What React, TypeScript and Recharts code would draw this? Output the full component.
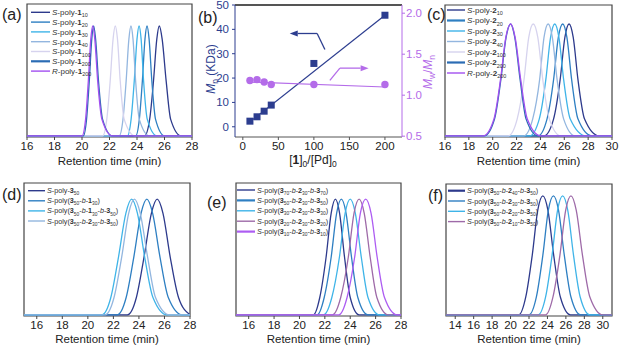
import React from 'react'
import { LineChart, Line, XAxis, YAxis, ReferenceArea, ReferenceLine } from 'recharts'

type Seg = [string, string]
type Name = { pre: string; segs: Seg[] }

const FRAME = '#444'
const TXT = '#222'
const NAVY = '#2d3a8c'
const BLUE = '#2e7fc2'
const SKY = '#3fb4e8'
const PALE = '#93b6df'
const LAV = '#d6d3ee'
const DBLUE = '#2b6cb4'
const PURPLE = '#a24ff0'
const MAUVE = '#9e6aa8'
const VIOLET = '#ad5cf2'
const MN = '#2c3d8f'
const PDI = '#b46ce9'

const LEVELS = [0, 0.15, 0.5, 0.88, 1, 0.88, 0.5, 0.15, 0]

// (a) S-poly-1 / R-poly-1
const A_NAMES: Name[] = [
  { pre: 'S', segs: [['1', '10']] },
  { pre: 'S', segs: [['1', '20']] },
  { pre: 'S', segs: [['1', '30']] },
  { pre: 'S', segs: [['1', '40']] },
  { pre: 'S', segs: [['1', '100']] },
  { pre: 'S', segs: [['1', '200']] },
  { pre: 'R', segs: [['1', '200']] },
]
const A_COLORS = [NAVY, BLUE, SKY, PALE, LAV, DBLUE, PURPLE]
const A_TIMES = [
  [24.55, 24.92, 25.2, 25.44, 25.62, 25.83, 26.12, 26.45, 27.2],
  [23.9, 24.17, 24.39, 24.58, 24.73, 24.88, 25.08, 25.35, 26.0],
  [23.3, 23.57, 23.8, 24.0, 24.15, 24.3, 24.48, 24.75, 25.45],
  [22.7, 22.98, 23.21, 23.41, 23.56, 23.71, 23.9, 24.17, 24.9],
  [21.5, 21.8, 22.05, 22.26, 22.42, 22.58, 22.78, 23.07, 23.85],
  [20.1, 20.33, 20.53, 20.71, 20.85, 20.99, 21.2, 21.5, 22.2],
  [20.0, 20.26, 20.46, 20.64, 20.78, 20.93, 21.14, 21.45, 22.2],
]
const A_TICKS = [16, 18, 20, 22, 24, 26, 28]

// (b) Mn and Mw/Mn vs [1]0/[Pd]0
const B_RATIO = [10, 20, 30, 40, 100, 200]
const B_MN = [2.3, 4.1, 6.4, 8.9, 26.0, 45.8]
const B_PDI = [1.18, 1.19, 1.16, 1.13, 1.13, 1.13]
const B_FIT_X = [10, 200]
const B_MN_FIT = [2.0, 45.8]
const B_PDI_FIT = [1.16, 1.1]
const B_XTICKS = [0, 50, 100, 150, 200]
const B_MN_TICKS = [0, 10, 20, 30, 40, 50]
const B_PDI_TICKS = [0.5, 1.0, 1.5, 2.0]

// (c) S-poly-2 / R-poly-2
const C_NAMES: Name[] = [
  { pre: 'S', segs: [['2', '10']] },
  { pre: 'S', segs: [['2', '20']] },
  { pre: 'S', segs: [['2', '30']] },
  { pre: 'S', segs: [['2', '40']] },
  { pre: 'S', segs: [['2', '100']] },
  { pre: 'S', segs: [['2', '200']] },
  { pre: 'R', segs: [['2', '200']] },
]
const C_COLORS = [NAVY, BLUE, SKY, PALE, LAV, DBLUE, PURPLE]
const C_TIMES = [
  [24.3, 25.1, 25.65, 26.05, 26.4, 26.75, 27.15, 27.7, 28.9],
  [23.8, 24.55, 25.1, 25.5, 25.87, 26.22, 26.62, 27.15, 28.3],
  [23.1, 23.9, 24.45, 24.85, 25.2, 25.55, 25.95, 26.5, 27.8],
  [22.6, 23.35, 23.93, 24.3, 24.65, 25.0, 25.4, 25.95, 26.9],
  [21.3, 22.05, 22.62, 23.02, 23.4, 23.78, 24.2, 24.75, 25.7],
  [19.3, 20.15, 20.68, 21.12, 21.5, 21.85, 22.3, 22.8, 23.8],
  [19.2, 20.1, 20.65, 21.1, 21.5, 21.88, 22.35, 22.9, 24.0],
]
const C_TICKS = [16, 18, 20, 22, 24, 26, 28, 30]

// (d) block copolymers from 3 and 1/2
const D_NAMES: Name[] = [
  { pre: 'S', segs: [['3', '50']] },
  { pre: 'S', segs: [['3', '50'], ['1', '30']] },
  { pre: 'S', segs: [['3', '50'], ['1', '30'], ['3', '50']] },
  { pre: 'S', segs: [['3', '50'], ['2', '30'], ['3', '50']] },
]
const D_COLORS = [NAVY, BLUE, SKY, PALE]
const D_TIMES = [
  [23.1, 23.8, 24.4, 24.98, 25.43, 25.88, 26.45, 27.1, 28.0],
  [22.3, 23.0, 23.6, 24.17, 24.62, 25.07, 25.65, 26.3, 27.4],
  [21.1, 21.8, 22.4, 22.98, 23.43, 23.88, 24.45, 25.1, 26.2],
  [21.35, 22.05, 22.65, 23.2, 23.65, 24.1, 24.68, 25.3, 26.4],
]
const DE_TICKS = [16, 18, 20, 22, 24, 26, 28]

// (e) varying outer 3 blocks
const E_NAMES: Name[] = [
  { pre: 'S', segs: [['3', '70'], ['2', '30'], ['3', '70']] },
  { pre: 'S', segs: [['3', '50'], ['2', '30'], ['3', '50']] },
  { pre: 'S', segs: [['3', '30'], ['2', '30'], ['3', '30']] },
  { pre: 'S', segs: [['3', '20'], ['2', '30'], ['3', '20']] },
  { pre: 'S', segs: [['3', '10'], ['2', '30'], ['3', '10']] },
]
const E_COLORS = [NAVY, BLUE, SKY, MAUVE, VIOLET]
const E_TIMES = [
  [21.1, 21.6, 22.1, 22.5, 22.83, 23.16, 23.55, 24.0, 24.7],
  [21.4, 21.95, 22.5, 22.93, 23.3, 23.67, 24.1, 24.6, 25.4],
  [21.9, 22.55, 23.15, 23.6, 24.0, 24.4, 24.87, 25.4, 26.3],
  [22.6, 23.25, 23.85, 24.3, 24.7, 25.1, 25.57, 26.1, 27.0],
  [23.1, 23.75, 24.35, 24.8, 25.22, 25.64, 26.12, 26.7, 27.7],
]

// (f) varying middle 2 block
const F_NAMES: Name[] = [
  { pre: 'S', segs: [['3', '50'], ['2', '40'], ['3', '50']] },
  { pre: 'S', segs: [['3', '50'], ['2', '30'], ['3', '50']] },
  { pre: 'S', segs: [['3', '50'], ['2', '20'], ['3', '50']] },
  { pre: 'S', segs: [['3', '50'], ['2', '10'], ['3', '50']] },
]
const F_COLORS = [NAVY, BLUE, SKY, MAUVE]
const F_TIMES = [
  [20.9, 21.65, 22.35, 22.95, 23.5, 24.05, 24.68, 25.4, 26.5],
  [22.0, 22.8, 23.5, 24.1, 24.65, 25.2, 25.83, 26.55, 27.6],
  [23.0, 23.8, 24.5, 25.1, 25.65, 26.2, 26.83, 27.55, 28.6],
  [23.8, 24.6, 25.35, 25.98, 26.55, 27.12, 27.8, 28.6, 30.0],
]
const F_TICKS = [14, 16, 18, 20, 22, 24, 26, 28, 30]

const curve = (times: number[], x0: number, x1: number) => {
  const pts = times.map((t, i) => ({ x: t, y: LEVELS[i] }))
  if (times[0] > x0) pts.unshift({ x: x0, y: 0 })
  if (times[times.length - 1] < x1) pts.push({ x: x1, y: 0 })
  return pts
}

const zip = (xs: number[], ys: number[]) => xs.map((x, i) => ({ x, y: ys[i] }))

type Part = { t: string; st?: 'i' | 'b' | 's' }

function nameParts(n: Name): Part[] {
  const out: Part[] = [{ t: n.pre, st: 'i' }, { t: n.segs.length === 1 ? '-poly-' : '-poly(' }]
  n.segs.forEach(([m, dp], i) => {
    if (i > 0) out.push({ t: '-' }, { t: 'b', st: 'i' }, { t: '-' })
    out.push({ t: m, st: 'b' }, { t: dp, st: 's' })
  })
  if (n.segs.length > 1) out.push({ t: ')' })
  return out
}

function spans(parts: Part[], fs: number) {
  const d = fs * 0.28
  let inSub = false
  return parts.map((p, i) => {
    let dy = 0
    if (p.st === 's' && !inSub) dy = d
    if (p.st !== 's' && inSub) dy = -d
    inSub = p.st === 's'
    return (
      <tspan
        key={i}
        dy={dy || undefined}
        fontStyle={p.st === 'i' ? 'italic' : undefined}
        fontWeight={p.st === 'b' ? 'bold' : undefined}
        fontSize={p.st === 's' ? fs * 0.68 : undefined}
      >
        {p.t}
      </tspan>
    )
  })
}

function LegendBox(props: { x: number; y: number; dy: number; lw: number; fs: number; names: Name[]; colors: string[]; thick?: number[] }) {
  const { x, y, dy, lw, fs, names, colors, thick = [] } = props
  return (
    <g>
      {names.map((n, i) => {
        const yy = y + i * dy
        return (
          <g key={i}>
            <line x1={x} x2={x + lw} y1={yy} y2={yy} stroke={colors[i]} strokeWidth={thick.includes(i) ? 2.2 : 1.4} />
            <text x={x + lw + 2} y={yy + fs * 0.36} fontSize={fs} fill="#333">
              {spans(nameParts(n), fs)}
            </text>
          </g>
        )
      })}
    </g>
  )
}

type GpcProps = {
  left: number
  top: number
  width: number
  height: number
  margin: { top: number; right: number; bottom: number; left: number }
  xh: number
  domain: [number, number]
  ticks: number[]
  yMax: number
  times: number[][]
  colors: string[]
}

function Gpc({ left, top, width, height, margin, xh, domain, ticks, yMax, times, colors }: GpcProps) {
  const [x0, x1] = domain
  return (
    <div style={{ position: 'absolute', left, top }}>
      <LineChart width={width} height={height} margin={margin}>
        <XAxis
          type="number"
          dataKey="x"
          domain={domain}
          ticks={ticks}
          interval={0}
          allowDataOverflow
          axisLine={false}
          tickSize={3}
          tickMargin={1.5}
          tickLine={{ stroke: FRAME }}
          tick={{ fill: TXT, fontSize: 11.5 }}
          height={xh}
          label={{ value: 'Retention time (min)', position: 'insideBottom', offset: 2.5, fill: TXT, fontSize: 11.5 }}
        />
        <YAxis hide type="number" domain={[-0.01, yMax]} allowDataOverflow />
        <ReferenceArea x1={x0} x2={x1} y1={-0.01} y2={yMax} fill="none" stroke={FRAME} strokeWidth={1.2} />
        {times.map((t, i) => (
          <Line
            key={i}
            data={curve(t, x0, x1)}
            dataKey="y"
            type="monotone"
            stroke={colors[i]}
            strokeWidth={1.3}
            dot={false}
            isAnimationActive={false}
          />
        ))}
      </LineChart>
    </div>
  )
}

const arrowShape = (color: string, head: boolean) => (p: any) => {
  const { x1, y1, x2, y2 } = p
  const ang = Math.atan2(y2 - y1, x2 - x1)
  const L = 8
  const W = 3
  const bx = x2 - L * Math.cos(ang)
  const by = y2 - L * Math.sin(ang)
  const nx = -Math.sin(ang) * W
  const ny = Math.cos(ang) * W
  return (
    <g>
      <line x1={x1} y1={y1} x2={head ? bx : x2} y2={head ? by : y2} stroke={color} strokeWidth={1.3} />
      {head && <polygon points={`${x2},${y2} ${bx + nx},${by + ny} ${bx - nx},${by - ny}`} fill={color} />}
    </g>
  )
}

const squareDot = (p: any) => <rect key={p.index} x={p.cx - 3.5} y={p.cy - 3.5} width={7} height={7} fill={MN} />
const circleDot = (p: any) => <circle key={p.index} cx={p.cx} cy={p.cy} r={3.7} fill={PDI} />

function PanelB() {
  return (
    <div style={{ position: 'absolute', left: 195, top: 0 }}>
      <LineChart width={245} height={170} margin={{ top: 5, right: 18, bottom: 3, left: 0 }}>
        <XAxis
          type="number"
          dataKey="x"
          domain={[-11, 224]}
          ticks={B_XTICKS}
          interval={0}
          allowDataOverflow
          height={30}
          stroke="#555"
          tickSize={3}
          tickMargin={1.5}
          tick={{ fill: TXT, fontSize: 11.5 }}
        />
        <YAxis
          yAxisId="mn"
          type="number"
          domain={[-4.2, 50]}
          ticks={B_MN_TICKS}
          interval={0}
          allowDataOverflow
          width={40}
          stroke={MN}
          tickSize={3}
          tickMargin={3}
          tick={{ fill: MN, fontSize: 11.5 }}
        />
        <YAxis
          yAxisId="pdi"
          orientation="right"
          type="number"
          domain={[0.49, 2.1]}
          ticks={B_PDI_TICKS}
          interval={0}
          allowDataOverflow
          width={20}
          stroke={PDI}
          tickSize={3}
          tickMargin={1}
          tickFormatter={(v: number) => v.toFixed(1)}
          tick={{ fill: PDI, fontSize: 11.5 }}
        />
        <ReferenceLine yAxisId="mn" y={50} stroke="#555" strokeWidth={2} />
        <Line yAxisId="mn" data={zip(B_FIT_X, B_MN_FIT)} dataKey="y" stroke={MN} strokeWidth={1.2} dot={false} isAnimationActive={false} />
        <Line yAxisId="pdi" data={zip(B_FIT_X, B_PDI_FIT)} dataKey="y" stroke={PDI} strokeWidth={1.2} dot={false} isAnimationActive={false} />
        <Line yAxisId="mn" data={zip(B_RATIO, B_MN)} dataKey="y" stroke="none" dot={squareDot} isAnimationActive={false} />
        <Line yAxisId="pdi" data={zip(B_RATIO, B_PDI)} dataKey="y" stroke="none" dot={circleDot} isAnimationActive={false} />
        <ReferenceLine yAxisId="mn" segment={[{ x: 115.5, y: 31.7 }, { x: 104.6, y: 38.3 }]} shape={arrowShape(MN, false)} />
        <ReferenceLine yAxisId="mn" segment={[{ x: 104.6, y: 38.3 }, { x: 66, y: 38.3 }]} shape={arrowShape(MN, true)} />
        <ReferenceLine yAxisId="pdi" segment={[{ x: 122.5, y: 1.18 }, { x: 136.6, y: 1.33 }]} shape={arrowShape(PDI, false)} />
        <ReferenceLine yAxisId="pdi" segment={[{ x: 136.6, y: 1.33 }, { x: 177, y: 1.33 }]} shape={arrowShape(PDI, true)} />
      </LineChart>
    </div>
  )
}

export default function App() {
  return (
    <div
      style={{
        position: 'absolute',
        left: 0,
        top: 0,
        width: 619,
        height: 347,
        background: '#fff',
        fontFamily: '"Liberation Sans", Arial, sans-serif',
      }}
    >
      <Gpc left={0} top={0} width={200} height={170} margin={{ top: 4, right: 8, bottom: 3, left: 27 }} xh={30} domain={[16, 28]} ticks={A_TICKS} yMax={1.2} times={A_TIMES} colors={A_COLORS} />
      <PanelB />
      <Gpc left={410} top={0} width={209} height={170} margin={{ top: 5, right: 7, bottom: 3, left: 35 }} xh={30} domain={[16, 30]} ticks={C_TICKS} yMax={1.17} times={C_TIMES} colors={C_COLORS} />
      <Gpc left={0} top={170} width={200} height={177} margin={{ top: 13, right: 10, bottom: 2, left: 24 }} xh={29} domain={[15, 28]} ticks={DE_TICKS} yMax={1.14} times={D_TIMES} colors={D_COLORS} />
      <Gpc left={200} top={170} width={210} height={177} margin={{ top: 13, right: 9, bottom: 2, left: 36 }} xh={29} domain={[15, 28]} ticks={DE_TICKS} yMax={1.14} times={E_TIMES} colors={E_COLORS} />
      <Gpc left={410} top={170} width={209} height={177} margin={{ top: 14, right: 7, bottom: 2, left: 36 }} xh={29} domain={[13, 31]} ticks={F_TICKS} yMax={1.1} times={F_TIMES} colors={F_COLORS} />
      <svg width={619} height={347} style={{ position: 'absolute', left: 0, top: 0, pointerEvents: 'none' }}>
        <g fontSize={16} fill={TXT}>
          <text x={2} y={19.5}>(a)</text>
          <text x={198} y={23}>(b)</text>
          <text x={427} y={19.5}>(c)</text>
          <text x={2} y={200}>(d)</text>
          <text x={207} y={208}>(e)</text>
          <text x={428} y={201}>(f)</text>
        </g>
        <text transform="translate(214.5,69) rotate(-90)" textAnchor="middle" fontSize={12} fill={MN}>
          <tspan fontStyle="italic">M</tspan>
          <tspan dy={3} fontSize={8.5}>n</tspan>
          <tspan dy={-3}> (KDa)</tspan>
        </text>
        <text transform="translate(432,72) rotate(-90)" textAnchor="middle" fontSize={12} fill={PDI}>
          <tspan fontStyle="italic">M</tspan>
          <tspan dy={3} fontSize={8.5}>w</tspan>
          <tspan dy={-3}>/</tspan>
          <tspan fontStyle="italic">M</tspan>
          <tspan dy={3} fontSize={8.5}>n</tspan>
        </text>
        <text x={313} y={164} textAnchor="middle" fontSize={12} fill={TXT}>
          <tspan>[</tspan>
          <tspan fontWeight="bold">1</tspan>
          <tspan>]</tspan>
          <tspan dy={3} fontSize={8.5}>0</tspan>
          <tspan dy={-3}>/[Pd]</tspan>
          <tspan dy={3} fontSize={8.5}>0</tspan>
        </text>
        <LegendBox x={31} y={12.3} dy={9.8} lw={19} fs={8} names={A_NAMES} colors={A_COLORS} thick={[5]} />
        <LegendBox x={447} y={10} dy={10.5} lw={18} fs={8} names={C_NAMES} colors={C_COLORS} thick={[1, 5]} />
        <LegendBox x={28} y={190.7} dy={10.1} lw={17} fs={7.2} names={D_NAMES} colors={D_COLORS} />
        <LegendBox x={237} y={190} dy={10.4} lw={18} fs={7.2} names={E_NAMES} colors={E_COLORS} thick={[1, 4]} />
        <LegendBox x={448} y={190.7} dy={10.3} lw={17} fs={7.2} names={F_NAMES} colors={F_COLORS} thick={[0]} />
      </svg>
    </div>
  )
}
